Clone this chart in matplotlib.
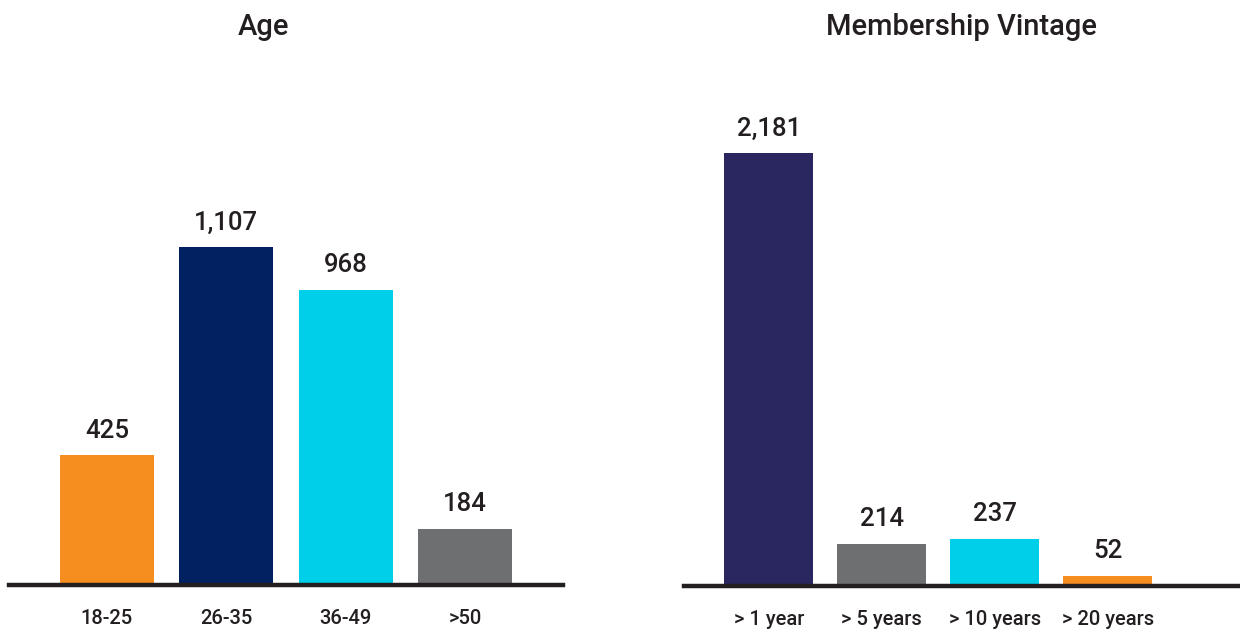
import matplotlib
matplotlib.use("Agg")
import matplotlib.pyplot as plt

# Data
age_groups = ["18-25", "26-35", "36-49", ">50"]
age_counts = [425, 1107, 968, 184]
age_colors = ["#F68D1F", "#022160", "#00CFEA", "#6E6F71"]

vintage_groups = ["> 1 year", "> 5 years", "> 10 years", "> 20 years"]
vintage_counts = [2181, 214, 237, 52]
vintage_colors = ["#2A2660", "#6E6F71", "#00CFEA", "#F68D1F"]

TEXT = "#231F20"
plt.rcParams["font.family"] = ["Roboto", "DejaVu Sans"]

W, H = 1240, 635
fig = plt.figure(figsize=(W / 100, H / 100), dpi=100)


def px_axes(x0, x1, y_base, y_top):
    return fig.add_axes([x0 / W, (H - y_base) / H, (x1 - x0) / W, (y_base - y_top) / H])


def draw_panel(ax, labels, values, colors, xlim, ymax, title, title_x):
    xs = range(len(values))
    ax.bar(xs, values, width=0.79, color=colors, zorder=2)
    for x, v in zip(xs, values):
        ax.annotate(f"{v:,}", (x, v), xytext=(0, 9), textcoords="offset points",
                    ha="center", va="bottom", fontsize=18.5, fontweight="medium",
                    color=TEXT)
    ax.set_xlim(*xlim)
    ax.set_ylim(0, ymax)
    ax.set_xticks(list(xs))
    ax.set_xticklabels(labels, fontsize=14.5, fontweight="medium", color=TEXT)
    ax.tick_params(axis="x", length=0, pad=17)
    ax.set_yticks([])
    for side in ("top", "left", "right"):
        ax.spines[side].set_visible(False)
    ax.spines["bottom"].set_color(TEXT)
    ax.spines["bottom"].set_linewidth(3.2)
    ax.spines["bottom"].set_zorder(3)
    fig.text(title_x / W, 1 - 27 / H, title, ha="center", va="center",
             fontsize=21, fontweight="medium", color=TEXT)


ax1 = px_axes(9, 563, 585, 60)
draw_panel(ax1, age_groups, age_counts, age_colors, (-0.82, 3.82), 1720, "Age", 264)

ax2 = px_axes(684, 1240, 586, 60)
draw_panel(ax2, vintage_groups, vintage_counts, vintage_colors, (-0.75, 4.17), 2650,
           "Membership Vintage", 962)

fig.savefig("out.png", dpi=100, facecolor="white")
